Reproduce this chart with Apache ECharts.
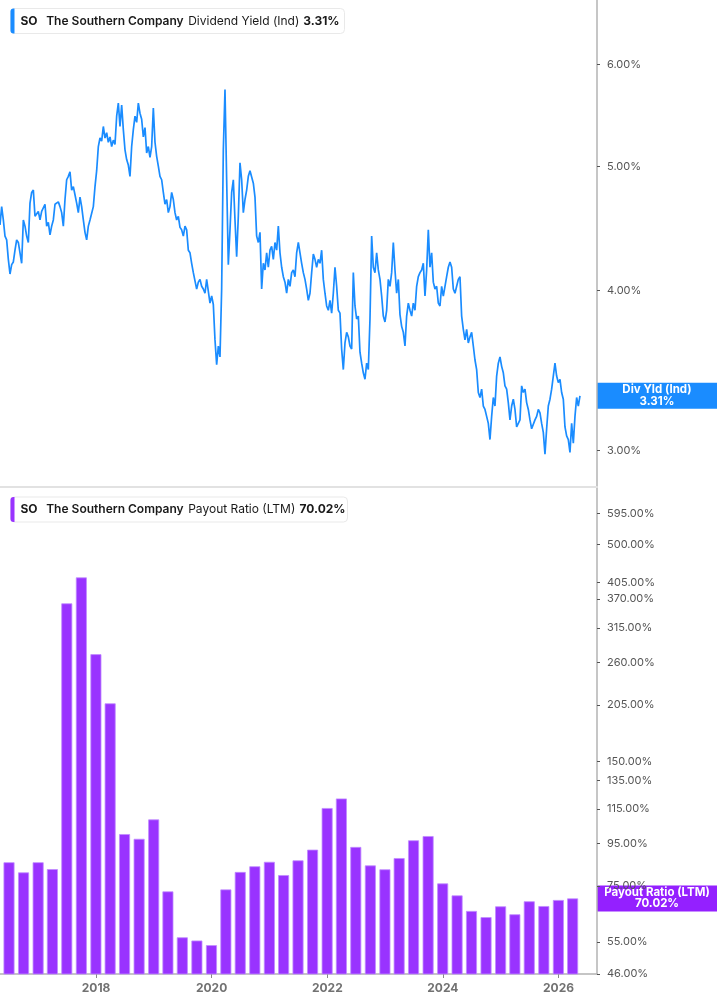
<!DOCTYPE html>
<html><head><meta charset="utf-8">
<script src="https://cdn.jsdelivr.net/npm/echarts@6/dist/echarts.min.js"></script>
<style>html,body{margin:0;padding:0;background:#fff}#c{width:717px;height:1005px}</style>
</head><body><div id="c"></div>
<script>
// ---- data ----
const ticker = 'SO';
const company = 'The Southern Company';
const yieldName = 'Dividend Yield (Ind)';
const yieldTag = 'Div Yld (Ind)';
const payoutName = 'Payout Ratio (LTM)';

// Dividend yield (%) sampled roughly every 10.5 days starting 2016-05-04
const yieldStartDate = '2016-05-04';
const yieldStepDays = 10.53;
const yieldValues = [
4.50,4.65,4.54,4.41,4.38,4.23,4.12,4.19,4.21,4.30,4.38,4.36,4.28,4.20,4.54,4.49,4.41,4.36,4.68,4.77,
4.79,4.57,4.57,4.61,4.54,4.61,4.60,4.67,4.49,4.52,4.42,4.49,4.54,4.67,4.68,4.69,4.65,4.60,4.49,4.71,
4.88,4.91,4.95,4.79,4.82,4.75,4.68,4.60,4.73,4.65,4.54,4.44,4.38,4.49,4.54,4.53,4.65,4.82,4.96,5.18,
5.26,5.23,5.37,5.26,5.31,5.22,5.27,5.18,5.24,5.20,5.47,5.60,5.37,5.58,5.34,5.15,5.06,5.01,4.91,5.18,
5.34,5.47,5.41,5.60,5.50,5.44,5.27,5.36,5.12,5.18,5.08,5.18,5.55,5.22,5.09,5.00,4.91,4.88,4.77,4.67,
4.71,4.60,4.65,4.77,4.71,4.60,4.54,4.57,4.48,4.46,4.41,4.49,4.46,4.30,4.28,4.20,4.13,4.13,4.01,4.06,
4.08,4.03,4.01,3.98,4.08,4.09,3.91,3.96,3.90,3.66,3.50,3.62,3.55,4.01,5.15,5.74,4.88,4.19,4.46,4.77,
4.88,4.54,4.25,4.57,5.03,4.88,4.60,4.71,4.79,4.91,4.96,4.97,4.85,4.73,4.41,4.36,4.44,4.01,4.20,4.15,
4.28,4.17,4.30,4.33,4.23,4.36,4.30,4.49,4.28,4.17,4.10,4.06,3.98,4.08,4.03,4.13,4.15,4.10,4.28,4.36,
4.28,4.20,4.13,4.08,4.01,3.93,3.98,4.13,4.27,4.23,4.17,4.23,4.20,4.30,4.08,3.98,3.89,3.86,3.93,3.84,
3.98,4.17,4.03,3.86,3.84,3.60,3.47,3.64,3.71,3.68,3.62,3.60,4.13,3.89,3.80,3.82,3.58,3.51,3.45,3.41,
3.51,3.47,3.80,4.41,4.17,4.13,4.28,4.15,4.08,3.96,3.82,3.78,3.86,4.08,4.03,4.13,4.36,4.15,3.98,4.08,
3.83,3.75,3.71,3.62,3.82,3.91,3.86,3.82,3.91,3.86,4.03,4.10,4.13,4.15,4.20,3.96,4.15,4.46,4.17,4.28,
4.06,4.01,4.03,3.91,3.89,4.03,3.96,4.03,4.10,4.17,4.21,4.17,4.01,3.98,4.03,4.08,4.10,3.82,3.73,3.66,
3.73,3.64,3.68,3.71,3.62,3.53,3.47,3.33,3.30,3.35,3.25,3.23,3.19,3.15,3.06,3.19,3.30,3.25,3.43,3.51,
3.55,3.49,3.45,3.37,3.35,3.27,3.17,3.25,3.29,3.23,3.13,3.15,3.17,3.37,3.33,3.35,3.27,3.23,3.17,3.12,
3.13,3.17,3.19,3.23,3.21,3.15,3.10,2.98,3.12,3.25,3.29,3.35,3.43,3.51,3.43,3.39,3.41,3.33,3.29,3.13,
3.08,3.06,2.99,3.15,3.04,3.19,3.30,3.25,3.31
];

// Payout ratio (LTM, %) by quarter end
const payoutDates = [
'2016-06-30','2016-09-30','2016-12-31','2017-03-31','2017-06-30','2017-09-30','2017-12-31','2018-03-31',
'2018-06-30','2018-09-30','2018-12-31','2019-03-31','2019-06-30','2019-09-30','2019-12-31','2020-03-31',
'2020-06-30','2020-09-30','2020-12-31','2021-03-31','2021-06-30','2021-09-30','2021-12-31','2022-03-31',
'2022-06-30','2022-09-30','2022-12-31','2023-03-31','2023-06-30','2023-09-30','2023-12-31','2024-03-31',
'2024-06-30','2024-09-30','2024-12-31','2025-03-31','2025-06-30','2025-09-30','2025-12-31','2026-03-31'
];
const payoutValues = [
85.6,80.9,85.6,82.4,360.8,416.8,272,207,100.1,97.5,108.6,72.8,56.4,55.4,54.0,73.6,
81.1,83.7,85.8,79.7,86.5,91.8,115.7,122,93.2,84.1,82.3,87.6,96.7,99.0,76.1,71.2,
65.3,63.1,67.0,64.1,68.9,67.1,69.4,70.02
];

const yieldTicks = [3, 4, 5, 6];
const payoutTicks = [46, 55, 75, 95, 115, 135, 150, 205, 260, 315, 370, 405, 500, 595];
const yearTicks = ['2018-01-01', '2020-01-01', '2022-01-01', '2024-01-01', '2026-01-01'];
const xRange = ['2016-05-04', '2026-09-01'];
const yieldRange = [2.81, 6.74];
const payoutRange = [46, 685];

// ---- chart ----
const BLUE = '#1a8cff', PURPLE = '#9933ff', TAGPURPLE = '#9420ff';
const FONT = 'Inter, "Noto Sans", sans-serif';
const ts = d => Date.parse(d + 'T00:00:00Z');
const t0 = ts(yieldStartDate);
const lineData = yieldValues.map((v, i) => [t0 + i * yieldStepDays * 864e5, Math.log(v)]);
const barData = payoutDates.map((d, i) => [ts(d), Math.log(payoutValues[i])]);
const lastYield = yieldValues[yieldValues.length - 1];
const lastPayout = payoutValues[payoutValues.length - 1];
const pct = v => Math.exp(v).toFixed(2) + '%';
const yearVals = yearTicks.map(ts);

function yAxisCfg(gridIndex, range, ticks) {
  return {
    type: 'value', gridIndex, position: 'right',
    min: Math.log(range[0]), max: Math.log(range[1]),
    splitLine: { show: false },
    axisLine: { show: true, lineStyle: { color: '#b3b3b3', width: 1.5 } },
    axisTick: { show: true, length: 3, lineStyle: { color: '#555' }, customValues: ticks.map(Math.log) },
    axisLabel: { show: true, margin: 10, color: '#555', fontSize: 11, fontFamily: FONT,
      customValues: ticks.map(Math.log), formatter: pct }
  };
}

function legend(top, accent, metric, value, valueX, width) {
  const mid = 12.5;
  const txt = (x, text, w) => ({ type: 'text', x, y: mid,
    style: { text, fill: '#1a1a1a', font: w + ' 12px ' + FONT, verticalAlign: 'middle' } });
  return { type: 'group', left: 10, top, children: [
    { type: 'rect', shape: { x: 0, y: 0, width, height: 25, r: 4 }, style: { fill: '#fff', stroke: '#e9e9e9', lineWidth: 1 } },
    { type: 'rect', shape: { x: 0, y: 0, width: 4, height: 25, r: [3, 0, 0, 3] }, style: { fill: accent } },
    txt(10, ticker, 700), txt(35.7, company, 600), txt(177.7, metric, 400), txt(valueX, value, 700)
  ]};
}

const chart = echarts.init(document.getElementById('c'), null, { renderer: 'canvas' });
chart.setOption({
  animation: false,
  backgroundColor: '#fff',
  grid: [
    { left: 0, right: 120, top: 0, height: 487 },
    { left: 0, right: 120, top: 488, height: 486 }
  ],
  xAxis: [
    { type: 'value', gridIndex: 0, min: ts(xRange[0]), max: ts(xRange[1]),
      axisLine: { show: true, lineStyle: { color: '#e2e2e2', width: 2 } },
      axisTick: { show: false }, axisLabel: { show: false }, splitLine: { show: false } },
    { type: 'value', gridIndex: 1, min: ts(xRange[0]), max: ts(xRange[1]),
      axisLine: { show: true, lineStyle: { color: '#b3b3b3', width: 1.5 } },
      axisTick: { show: true, length: 4, lineStyle: { color: '#888' }, customValues: yearVals },
      axisLabel: { show: true, margin: 8, color: '#727272', fontSize: 12, fontWeight: 'bold', fontFamily: FONT,
        customValues: yearVals, formatter: v => String(new Date(v).getUTCFullYear()) },
      splitLine: { show: false } }
  ],
  yAxis: [
    yAxisCfg(0, yieldRange, yieldTicks),
    yAxisCfg(1, payoutRange, payoutTicks)
  ],
  series: [
    { name: yieldName, type: 'line', xAxisIndex: 0, yAxisIndex: 0, data: lineData,
      showSymbol: false, symbol: 'none', lineStyle: { color: BLUE, width: 1.7 }, clip: true },
    { name: payoutName, type: 'bar', xAxisIndex: 1, yAxisIndex: 1, data: barData, barWidth: 11, clip: true,
      itemStyle: { color: PURPLE, borderColor: '#c08cff', borderWidth: 0.8 } }
  ]
});

// legends and value tags; tags are positioned through the axes' own scales
function valueTag(idx, val, label, color) {
  const y = chart.convertToPixel({ yAxisIndex: idx }, Math.log(val));
  const x = chart.convertToPixel({ xAxisIndex: idx }, ts(xRange[1]));
  const w = 717 - x, h = 26;
  const t = (ty, text) => ({ type: 'text', x: w / 2, y: ty,
    style: { text, fill: '#fff', font: 'bold 11.5px ' + FONT, align: 'center', verticalAlign: 'middle' } });
  return { type: 'group', x, y: y - h / 2, z: 100, children: [
    { type: 'rect', shape: { x: 0, y: 0, width: w, height: h }, style: { fill: color } },
    t(7, label), t(18.5, val.toFixed(2) + '%')
  ]};
}
chart.setOption({ graphic: [
  legend(8, BLUE, yieldName, lastYield.toFixed(2) + '%', 292.7, 334),
  legend(496.5, PURPLE, payoutName, lastPayout.toFixed(2) + '%', 289, 337),
  valueTag(0, lastYield, yieldTag, BLUE),
  valueTag(1, lastPayout, payoutName, TAGPURPLE)
] });
</script></body></html>
